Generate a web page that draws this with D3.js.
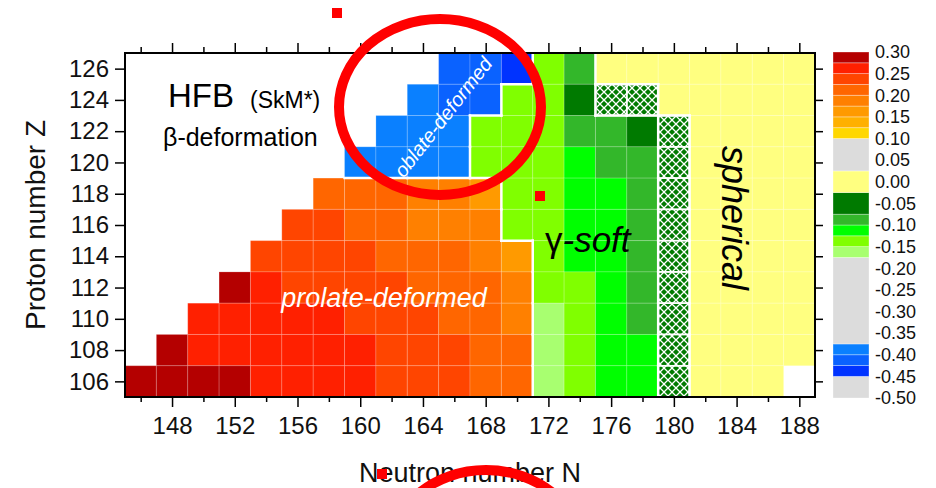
<!DOCTYPE html>
<html>
<head>
<meta charset="utf-8">
<script src="https://cdn.jsdelivr.net/npm/d3@7"></script>
<style>
body { margin: 0; background: #fff; }
svg { font-family: "Liberation Sans", Arial, sans-serif; }
</style>
</head>
<body>
<svg id="chart" width="936" height="488"></svg>
<script>
// neutron numbers N (cell centres) and proton numbers Z (rows, top to bottom)
var neutrons = [146, 148, 150, 152, 154, 156, 158, 160, 162, 164, 166, 168, 170, 172, 174, 176, 178, 180, 182, 184, 186, 188];
var protons = [126, 124, 122, 120, 118, 116, 114, 112, 110, 108, 106];

// beta deformation, one row per Z (same order as protons), null = not computed
var beta = [
  [null, null, null, null, null, null, null, null, null, null, -0.41, -0.41, -0.44, -0.14, -0.09, 0, 0, 0, 0, 0, 0, 0],
  [null, null, null, null, null, null, null, null, null, -0.39, -0.41, -0.41, -0.14, -0.14, -0.05, -0.05, -0.05, 0, 0, 0, 0, 0],
  [null, null, null, null, null, null, null, null, -0.39, -0.39, -0.39, -0.14, -0.14, -0.14, -0.09, -0.09, -0.05, -0.05, 0, 0, 0, 0],
  [null, null, null, null, null, null, null, -0.39, -0.39, -0.39, -0.39, -0.14, -0.14, -0.14, -0.11, -0.09, -0.09, -0.05, 0, 0, 0, 0],
  [null, null, null, null, null, null, 0.21, 0.21, 0.21, 0.19, 0.19, 0.16, -0.14, -0.14, -0.11, -0.11, -0.09, -0.05, 0, 0, 0, 0],
  [null, null, null, null, null, 0.24, 0.24, 0.21, 0.21, 0.19, 0.19, 0.19, -0.14, -0.14, -0.11, -0.11, -0.09, -0.05, 0, 0, 0, 0],
  [null, null, null, null, 0.24, 0.24, 0.24, 0.24, 0.21, 0.21, 0.21, 0.19, 0.16, -0.14, -0.11, -0.11, -0.09, -0.05, 0, 0, 0, 0],
  [null, null, null, 0.29, 0.26, 0.24, 0.24, 0.24, 0.24, 0.21, 0.21, 0.21, 0.19, -0.14, -0.14, -0.11, -0.09, -0.05, 0, 0, 0, 0],
  [null, null, 0.26, 0.26, 0.26, 0.26, 0.26, 0.24, 0.24, 0.24, 0.21, 0.21, 0.19, -0.16, -0.14, -0.11, -0.09, -0.05, 0, 0, 0, 0],
  [null, 0.29, 0.26, 0.26, 0.26, 0.26, 0.26, 0.26, 0.24, 0.24, 0.24, 0.21, 0.21, -0.16, -0.14, -0.11, -0.11, -0.05, 0, 0, 0, 0],
  [0.29, 0.29, 0.29, 0.29, 0.26, 0.26, 0.26, 0.26, 0.24, 0.24, 0.24, 0.21, 0.21, -0.16, -0.14, -0.11, -0.11, -0.05, 0, 0, 0, null]
];

// cells drawn with the cross-hatch (N, Z)
var hatched = [[176, 124], [178, 124], [180, 122], [180, 120], [180, 118], [180, 116], [180, 114], [180, 112], [180, 110], [180, 108], [180, 106]];

// colour bar: band edges and colours (bottom to top)
var bandEdges = [-0.50, -0.45, -0.425, -0.40, -0.375, -0.175, -0.15, -0.125, -0.10, -0.075, -0.025, 0.025, 0.10, 0.125, 0.15, 0.175, 0.20, 0.225, 0.25, 0.275, 0.30];
var bandColors = ["#dcdcdc", "#0033ff", "#0a62ff", "#0a80ff", "#dcdcdc", "#a8ff70", "#80ff00", "#00ff00", "#33b72a", "#007a00",
  "#ffff80", "#dcdcdc", "#ffd700", "#ffb000", "#ff9a00", "#ff8000", "#ff6600", "#ff4500", "#ff2000", "#b40000"];
var legendTicks = [0.30, 0.25, 0.20, 0.15, 0.10, 0.05, 0.00, -0.05, -0.10, -0.15, -0.20, -0.25, -0.30, -0.35, -0.40, -0.45, -0.50];

var xLabelTicks = [148, 152, 156, 160, 164, 168, 172, 176, 180, 184, 188];
var xMinorTicks = [146, 150, 154, 158, 162, 166, 170, 174, 178, 182, 186];

var svg = d3.select("#chart");

var plotL = 125, plotR = 815, plotT = 53, plotB = 397;

var x = d3.scaleLinear().domain([145, 189]).range([plotL, plotR]);
var y = d3.scaleLinear().domain([105, 127]).range([plotB, plotT]);

var color = d3.scaleThreshold()
  .domain(bandEdges.slice(1, -1))
  .range(bandColors);

var defs = svg.append("defs");
var pat = defs.append("pattern")
  .attr("id", "hatch")
  .attr("patternUnits", "userSpaceOnUse")
  .attr("width", 8).attr("height", 8);
pat.append("rect").attr("width", 8).attr("height", 8).attr("fill", "#007a00");
pat.append("path").attr("d", "M0,0 L8,8 M8,0 L0,8").attr("stroke", "#fff").attr("stroke-width", 1.3);

function isHatched(n, z) {
  return hatched.some(h => h[0] == n && h[1] == z);
}

var cells = [];
protons.forEach(function(z, i) {
  neutrons.forEach(function(n, j) {
    if (beta[i][j] != null) cells.push({n: n, z: z, v: beta[i][j], h: isHatched(n, z)});
  });
});

var g = svg.append("g");

g.selectAll("rect.cell").data(cells).enter().append("rect")
  .attr("class", "cell")
  .attr("x", d => x(d.n - 1))
  .attr("y", d => y(d.z + 1))
  .attr("width", d => x(d.n + 1) - x(d.n - 1))
  .attr("height", d => y(d.z - 1) - y(d.z + 1))
  .attr("fill", d => d.h ? "url(#hatch)" : color(d.v))
  .attr("stroke", "rgba(255,255,255,0.18)")
  .attr("stroke-width", 1);

// white borders between the shape regions
function region(c) {
  if (c.h) return "h";
  if (c.v > 0.05) return "p";
  if (c.v < -0.3) return "o";
  if (c.v < -0.025) return "s";
  return "y";
}
var lookup = {};
cells.forEach(c => lookup[c.n + "_" + c.z] = c);
var borders = [];
cells.forEach(function(c) {
  var r = lookup[(c.n + 2) + "_" + c.z];
  if (r && region(r) != region(c)) borders.push([c.n + 1, c.z - 1, c.n + 1, c.z + 1]);
  var b = lookup[c.n + "_" + (c.z - 2)];
  if (b && region(b) != region(c)) borders.push([c.n - 1, c.z - 1, c.n + 1, c.z - 1]);
});
g.selectAll("line.border").data(borders).enter().append("line")
  .attr("x1", d => x(d[0])).attr("y1", d => y(d[1]))
  .attr("x2", d => x(d[2])).attr("y2", d => y(d[3]))
  .attr("stroke", "#fff").attr("stroke-width", 2.5).attr("stroke-linecap", "square");

// hatch outline
g.selectAll("rect.hout").data(cells.filter(c => c.h)).enter().append("rect")
  .attr("x", d => x(d.n - 1))
  .attr("y", d => y(d.z + 1))
  .attr("width", d => x(d.n + 1) - x(d.n - 1))
  .attr("height", d => y(d.z - 1) - y(d.z + 1))
  .attr("fill", "none").attr("stroke", "#fff").attr("stroke-width", 1.5);

// axes
svg.append("g").attr("transform", `translate(0,${plotB})`)
  .call(d3.axisBottom(x).tickValues(xLabelTicks).tickSize(10).tickPadding(10));
svg.append("g").attr("transform", `translate(0,${plotB})`)
  .call(d3.axisBottom(x).tickValues(xMinorTicks).tickSize(5).tickFormat(""));
svg.append("g").attr("transform", `translate(0,${plotT})`)
  .call(d3.axisTop(x).tickValues(xLabelTicks).tickSize(10).tickFormat(""));
svg.append("g").attr("transform", `translate(0,${plotT})`)
  .call(d3.axisTop(x).tickValues(xMinorTicks).tickSize(6).tickFormat(""));
svg.append("g").attr("transform", `translate(${plotL},0)`)
  .call(d3.axisLeft(y).tickValues(protons).tickSize(10).tickPadding(6));
svg.append("g").attr("transform", `translate(${plotR},0)`)
  .call(d3.axisRight(y).tickValues(protons).tickSize(8).tickFormat(""));

svg.selectAll(".domain").remove();
svg.selectAll(".tick line").attr("stroke", "#000").attr("stroke-width", 1.5);
svg.selectAll(".tick text").attr("font-size", 24).attr("font-family", "Liberation Sans, Arial, sans-serif").attr("fill", "#111");

svg.append("rect")
  .attr("x", plotL).attr("y", plotT)
  .attr("width", plotR - plotL).attr("height", plotB - plotT)
  .attr("fill", "none").attr("stroke", "#000").attr("stroke-width", 2);

svg.append("text")
  .attr("x", (plotL + plotR) / 2).attr("y", 482)
  .attr("text-anchor", "middle").attr("font-size", 27).attr("fill", "#111")
  .text("Neutron number N");

svg.append("text")
  .attr("transform", "rotate(-90)")
  .attr("x", -(plotT + plotB) / 2).attr("y", 45)
  .attr("text-anchor", "middle").attr("font-size", 28).attr("fill", "#111")
  .text("Proton number Z");

// colour bar
var ly = d3.scaleLinear().domain([-0.5, 0.3]).range([398, 52]);
var bands = bandColors.map((c, i) => ({lo: bandEdges[i], hi: bandEdges[i + 1], c: c}));
svg.selectAll("rect.band").data(bands).enter().append("rect")
  .attr("x", 833).attr("width", 36)
  .attr("y", d => ly(d.hi))
  .attr("height", d => ly(d.lo) - ly(d.hi))
  .attr("fill", d => d.c)
  .attr("stroke", "rgba(255,255,255,0.4)").attr("stroke-width", 0.8);
svg.selectAll("text.lt").data(legendTicks).enter().append("text")
  .attr("x", 875).attr("y", d => ly(d))
  .attr("dy", "0.35em").attr("font-size", 18).attr("fill", "#111")
  .text(d => d.toFixed(2));

// annotations
svg.append("text").attr("x", 168).attr("y", 107).attr("font-size", 33).text("HFB");
svg.append("text").attr("x", 250).attr("y", 108).attr("font-size", 23).text("(SkM*)");
svg.append("text").attr("x", 163).attr("y", 146).attr("font-size", 25).text("β-deformation");

svg.append("text")
  .attr("transform", "translate(443,117) rotate(-52)")
  .attr("text-anchor", "middle").attr("dy", "0.35em")
  .attr("font-size", 20).attr("font-style", "italic").attr("fill", "#fff")
  .text("oblate-deformed");

svg.append("text")
  .attr("x", 384).attr("y", 307)
  .attr("text-anchor", "middle")
  .attr("font-size", 27).attr("font-style", "italic").attr("fill", "#fff")
  .text("prolate-deformed");

var gs = svg.append("text").attr("x", 545).attr("y", 252).attr("font-size", 35).attr("fill", "#000");
gs.append("tspan").text("γ");
gs.append("tspan").attr("font-style", "italic").text("-soft");

svg.append("text")
  .attr("transform", "translate(722,218) rotate(90)")
  .attr("text-anchor", "middle")
  .attr("font-size", 36).attr("font-style", "italic").attr("fill", "#000")
  .text("spherical");

// red marks drawn over the figure
svg.append("ellipse").attr("cx", 440).attr("cy", 107).attr("rx", 101).attr("ry", 88)
  .attr("fill", "none").attr("stroke", "#ff0000").attr("stroke-width", 10);
svg.append("ellipse").attr("cx", 486).attr("cy", 558).attr("rx", 99).attr("ry", 88)
  .attr("fill", "none").attr("stroke", "#ff0000").attr("stroke-width", 10);
[[332, 8], [535, 191], [377, 469]].forEach(function(p) {
  svg.append("rect").attr("x", p[0]).attr("y", p[1]).attr("width", 10).attr("height", 10).attr("fill", "#ff0000");
});
</script>
</body>
</html>
